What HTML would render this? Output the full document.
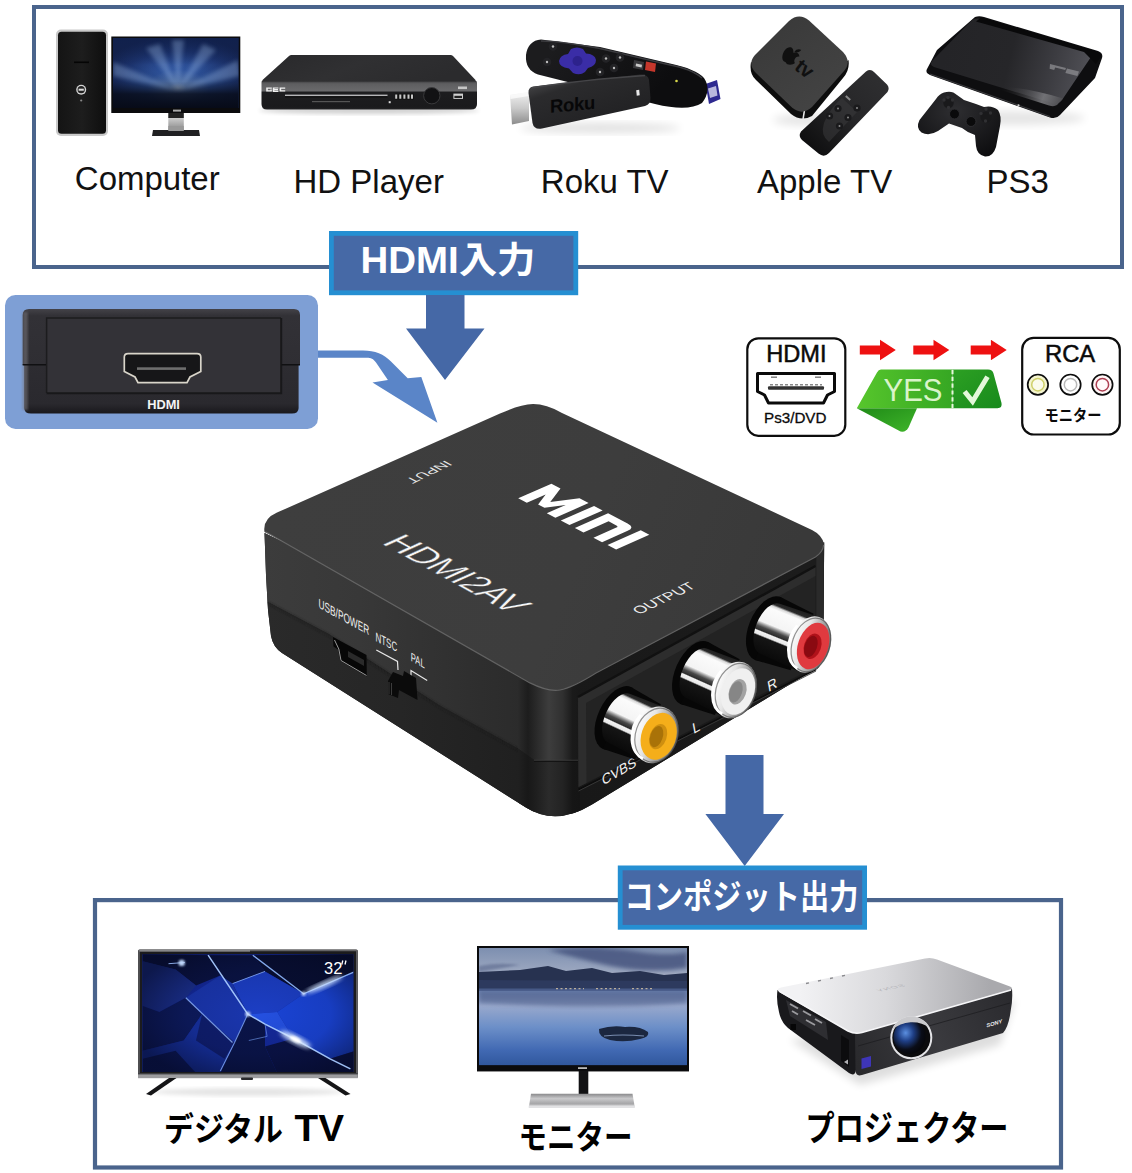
<!DOCTYPE html>
<html><head><meta charset="utf-8"><title>HDMI to AV converter</title>
<style>
html,body{margin:0;padding:0;background:#fff;}
body{width:1132px;height:1173px;overflow:hidden;font-family:"Liberation Sans",sans-serif;}
svg{display:block;}
text{font-family:"Liberation Sans",sans-serif;}
</style></head><body>
<svg width="1132" height="1173" viewBox="0 0 1132 1173">
<defs>
<linearGradient id="gTop" x1="0" y1="0" x2="1" y2="1">
 <stop offset="0" stop-color="#3a3a3a"/><stop offset="1" stop-color="#323232"/>
</linearGradient>
<radialGradient id="gScreen1" cx="0.55" cy="0.62" r="0.6">
 <stop offset="0" stop-color="#9fc0ea"/><stop offset="0.18" stop-color="#4f7fc4"/><stop offset="0.5" stop-color="#1c3a78"/><stop offset="1" stop-color="#0a1738"/>
</radialGradient>
<linearGradient id="gSilverV" x1="0" y1="0" x2="0" y2="1">
 <stop offset="0" stop-color="#e8e8e8"/><stop offset="1" stop-color="#8a8a8a"/>
</linearGradient>
<linearGradient id="gGreen" x1="0" y1="0" x2="1" y2="0">
 <stop offset="0" stop-color="#57c62c"/><stop offset="1" stop-color="#36a723"/>
</linearGradient>
<linearGradient id="gGreen2" x1="0" y1="0" x2="1" y2="1">
 <stop offset="0" stop-color="#2da023"/><stop offset="1" stop-color="#178a1c"/>
</linearGradient>
<linearGradient id="gFold" x1="0" y1="0" x2="1" y2="1">
 <stop offset="0" stop-color="#1f8a17"/><stop offset="1" stop-color="#3fb52a"/>
</linearGradient>
</defs>
<rect x="0" y="0" width="1132" height="1173" fill="#ffffff"/>
<rect x="34" y="7" width="1088" height="260" fill="#fff" stroke="#4a648c" stroke-width="4"/>
<text x="74.8" y="190.3" font-size="33" fill="#111">Computer</text>
<text x="293.5" y="193.1" font-size="33" fill="#111">HD Player</text>
<text x="540.8" y="193.1" font-size="33" fill="#111">Roku TV</text>
<text x="757" y="193.1" font-size="33" fill="#111">Apple TV</text>
<text x="986.5" y="193.1" font-size="33" fill="#111">PS3</text>
<rect x="331.4" y="233.4" width="244.4" height="59.4" fill="#4669a6" stroke="#258fd2" stroke-width="4.8"/>
<polygon points="426,295 464.5,295 464.5,328.5 484.5,328.5 445,380 406,328.5 426,328.5" fill="#4568a6"/>
<rect x="5" y="295" width="313" height="133.9" rx="10.5" fill="#7e9fd5"/>
<path d="M318,350.4 L363,350.4 C375,350.4 384,354 391,361.5 L407.7,378.2 L421.3,377 L437.4,422.8 L372.5,382.6 L387.9,380.1 L376,362.5 C373,358.5 371,357.6 366,357.7 L318,357.8 Z" fill="#5a85c8"/>
<polygon points="725.5,755 763.5,755 763.5,814 784,814 744.7,866 705.4,814 725.5,814" fill="#4568a6"/>
<rect x="95" y="900.1" width="966" height="267.4" fill="#fff" stroke="#4a648c" stroke-width="4.2"/>
<rect x="620.2" y="867.9" width="244.4" height="59.4" fill="#4669a6" stroke="#258fd2" stroke-width="4.8"/>
<text x="360.5" y="272.5" font-size="36" font-weight="bold" fill="#fff" textLength="175" lengthAdjust="spacingAndGlyphs" style="font-family:'Liberation Sans','Noto Sans CJK JP',sans-serif;">HDMI入力</text>
<text x="624.5" y="908.7" font-size="34" font-weight="bold" fill="#fff" textLength="234" lengthAdjust="spacingAndGlyphs" style="font-family:'Liberation Sans','Noto Sans CJK JP',sans-serif;">コンポジット出力</text>
<text x="164" y="1140.6" font-size="33" font-weight="bold" fill="#000" textLength="119" lengthAdjust="spacingAndGlyphs" style="font-family:'Liberation Sans','Noto Sans CJK JP',sans-serif;">デジタル</text>
<text x="294.5" y="1141.4" font-size="36.5" font-weight="bold" fill="#000" textLength="49.5" lengthAdjust="spacingAndGlyphs">TV</text>
<text x="518.5" y="1149.4" font-size="33" font-weight="bold" fill="#000" textLength="114" lengthAdjust="spacingAndGlyphs" style="font-family:'Liberation Sans','Noto Sans CJK JP',sans-serif;">モニター</text>
<text x="805.5" y="1140.6" font-size="35" font-weight="bold" fill="#000" textLength="203" lengthAdjust="spacingAndGlyphs" style="font-family:'Liberation Sans','Noto Sans CJK JP',sans-serif;">プロジェクター</text>
<defs>
<linearGradient id="cvTop" gradientUnits="userSpaceOnUse" x1="300" y1="450" x2="760" y2="640">
 <stop offset="0" stop-color="#3e3e3e"/><stop offset="0.6" stop-color="#3d3d3d"/><stop offset="1" stop-color="#393939"/>
</linearGradient>
<linearGradient id="cvLeftU" gradientUnits="userSpaceOnUse" x1="265" y1="0" x2="535" y2="0">
 <stop offset="0" stop-color="#3c3c3c"/><stop offset="0.35" stop-color="#383838"/><stop offset="0.8" stop-color="#2e2e2e"/><stop offset="1" stop-color="#2a2a2a"/>
</linearGradient>
<linearGradient id="cvLeftL" gradientUnits="userSpaceOnUse" x1="265" y1="0" x2="535" y2="0">
 <stop offset="0" stop-color="#2a2a2a"/><stop offset="0.5" stop-color="#262626"/><stop offset="1" stop-color="#1f1f1f"/>
</linearGradient>
<linearGradient id="cvCorner" gradientUnits="userSpaceOnUse" x1="518" y1="0" x2="580" y2="0">
 <stop offset="0" stop-color="#2b2b2b"/><stop offset="0.16" stop-color="#1d1d1d"/><stop offset="0.30" stop-color="#2a2a2a"/><stop offset="0.5" stop-color="#3d3d3d"/><stop offset="0.72" stop-color="#303030"/><stop offset="0.88" stop-color="#1a1a1a"/><stop offset="1" stop-color="#181818"/>
</linearGradient>
<linearGradient id="cvCornerL" gradientUnits="userSpaceOnUse" x1="518" y1="0" x2="580" y2="0">
 <stop offset="0" stop-color="#202020"/><stop offset="0.16" stop-color="#181818"/><stop offset="0.30" stop-color="#1f1f1f"/><stop offset="0.5" stop-color="#2b2b2b"/><stop offset="0.72" stop-color="#232323"/><stop offset="0.88" stop-color="#161616"/><stop offset="1" stop-color="#151515"/>
</linearGradient>
<linearGradient id="cvRight" gradientUnits="userSpaceOnUse" x1="560" y1="760" x2="830" y2="620">
 <stop offset="0" stop-color="#181818"/><stop offset="1" stop-color="#1c1c1c"/>
</linearGradient>
<linearGradient id="metal" gradientUnits="userSpaceOnUse" x1="0" y1="-24" x2="0" y2="24">
 <stop offset="0" stop-color="#6a6a6a"/><stop offset="0.12" stop-color="#f4f4f4"/><stop offset="0.3" stop-color="#ffffff"/>
 <stop offset="0.45" stop-color="#9a9a9a"/><stop offset="0.62" stop-color="#2e2e2e"/><stop offset="0.8" stop-color="#1a1a1a"/><stop offset="0.93" stop-color="#8a8a8a"/><stop offset="1" stop-color="#444"/>
</linearGradient>
<clipPath id="cvSil"><path d="M264.5,533 L266,575 L268,610 L271,636 Q273,647 282,653 L526,807.6 Q556,826.5 592,804.6 L812,670.8 Q822.5,664.5 823.3,654 L824.2,542 L569,680 Z"/></clipPath>
</defs>
<path d="M264.5,533 L266,575 L268,610 L271,636 Q273,647 282,653 L526,807.6 Q556,826.5 592,804.6 L812,670.8 Q822.5,664.5 823.3,654 L824.2,542 L569,680 Z" fill="#1b1b1b"/>
<g clip-path="url(#cvSil)"><path d="M260,528 L535,686 L535,760 L525,752.4 L440,705.7 L329,634.2 L260,598 Z" fill="url(#cvLeftU)"/><path d="M260,598 L329,634.2 L440,705.7 L525,752.4 L535,760 L535,830 L260,660 Z" fill="url(#cvLeftL)"/><path d="M262,599.5 L329,635.2 L440,706.7 L525,753.4 L536,761" stroke="#1e1e1e" stroke-width="2.2" fill="none" opacity="0.55" filter="url(#blur1)"/><path d="M570,680 L830,540 L830,700 L570,830 Z" fill="url(#cvRight)"/><path d="M518,680 H580 V760.5 H535 L518,748.5 Z" fill="url(#cvCorner)"/><path d="M518,748.5 L535,760.5 H580 V830 H518 Z" fill="url(#cvCornerL)"/><path d="M534,760.3 H578" stroke="#454545" stroke-width="1" opacity="0.8"/><path d="M534,761.4 H578" stroke="#101010" stroke-width="1.2" opacity="0.8"/></g>
<path d="M816.3,557.5 Q823,552.5 823.8,546 L823.3,655 Q823,664 816.3,670 Z" fill="#2a2a2a"/>
<path d="M578,697 L815.5,566 L815.5,667 L578.5,787 Z" fill="#232323"/>
<path d="M578,697 L815.5,566 L815.5,576 L586,703 L586.5,783 L578.5,787 Z" fill="#2d2d2d"/>
<path d="M578,697 L815.5,566" stroke="#111" stroke-width="2.4" fill="none"/>
<path d="M578.5,789.5 L816,669.5" stroke="#0c0c0c" stroke-width="1.6" fill="none"/>
<path d="M578.5,791 L816,671" stroke="#3a3a3a" stroke-width="0.9" fill="none"/>
<path d="M264.5,532 Q262.5,519 277,512.6 L500,413.6 Q520,404.4 533,404.1 Q546,404 562,413 L812,530 Q822,535 824,544 Q823.6,551.5 815.5,556.8 L596,672.5 Q572,687.5 560,689.5 Q548,691.5 530,682.6 L270,534.6 Z" fill="url(#cvTop)"/>
<path d="M265.5,531.8 L530,682.9 Q548,692 560,690 Q572,688 596,673 L815.5,557 Q823,552 823.6,545" stroke="#686868" stroke-width="1.2" fill="none" opacity="0.9"/>
<g transform="matrix(0.9066 0.4738 0.898 -0.395 518.2 498.3)" fill="#fff"><path d="M0,0V37H10L20.5,15L31,37H41V0H31.5V21L24,5H17L9.5,21V0Z"/><rect x="47" y="0" width="9.5" height="37"/><path d="M62.5,0V37H84Q92.5,37 92.5,28.5V0H83V25.5Q83,28 80.5,28H72V0Z"/><rect x="98.5" y="0" width="9.5" height="37"/></g>
<text transform="matrix(0.835 0.456 -0.915 0.408 380.5 543.2)" font-size="36.5" fill="#f6f6f6" stroke="#3a3a3a" stroke-width="0.45" letter-spacing="-0.6">HDMI2AV</text>
<text transform="matrix(-1.04 0.498 -0.86 -0.463 445.6 460.3)" font-size="13" fill="#e6e6e6">INPUT</text>
<text transform="matrix(0.96 -0.46 0.80 0.56 639 614.8)" font-size="14.6" fill="#ededed">OUTPUT</text>
<text transform="matrix(0.627 0.343 0 1 318.6 607.6)" font-size="13.2" fill="#f0f0f0">USB/POWER</text>
<text transform="matrix(0.627 0.32 0 1 375.4 640.9)" font-size="12.8" fill="#f0f0f0">NTSC</text>
<text transform="matrix(0.627 0.36 0 1 410.8 660.7)" font-size="12.2" fill="#f0f0f0">PAL</text>
<path d="M376.3,650 L397.5,661.4 L398,670" stroke="#e8e8e8" stroke-width="1.2" fill="none"/>
<path d="M411,676.5 L411,670.6 L427.2,680.5" stroke="#e8e8e8" stroke-width="1.2" fill="none"/>
<path d="M333,637 L366.5,655 L366.8,676.5 L340.5,661 L338,649.5 L333.5,646.5 Z" fill="#070707"/>
<path d="M334.5,640 L338.8,649 L341,660.5 L366.5,675.5" stroke="#9a9a9a" stroke-width="1" fill="none"/>
<path d="M348,651 L364,660 L364,666 L348,657 Z" fill="#2a2a2a"/>
<path d="M393,672 L403,676 L404,671 L416,678 L417.5,700 L399,690 L398,698 L388,694 L388,681 Z" fill="#0b0b0b"/>
<path d="M389,682 L389,694 M391.5,683 L391.5,695" stroke="#3c3c3c" stroke-width="1" fill="none"/>
<text transform="matrix(0.87 -0.50 0.18 0.98 603 785.4)" font-size="14.2" fill="#f2f2f2">CVBS</text>
<text transform="matrix(0.87 -0.50 0.18 0.98 693.5 734)" font-size="14.5" fill="#f2f2f2">L</text>
<text transform="matrix(0.87 -0.50 0.18 0.98 768.5 692)" font-size="14.5" fill="#f2f2f2">R</text>
<defs>
<linearGradient id="rimG" x1="0" y1="0" x2="1" y2="0"><stop offset="0" stop-color="#ffffff"/><stop offset="0.35" stop-color="#e6e6e6"/><stop offset="0.7" stop-color="#9a9a9a"/><stop offset="1" stop-color="#6a6a6a"/></linearGradient>
<linearGradient id="metal2" gradientUnits="userSpaceOnUse" x1="0" y1="-29" x2="0" y2="29">
 <stop offset="0" stop-color="#1c1c1c"/><stop offset="0.09" stop-color="#2a2a2a"/><stop offset="0.125" stop-color="#d8d8d8"/><stop offset="0.17" stop-color="#fbfbfb"/>
 <stop offset="0.44" stop-color="#f4f4f4"/><stop offset="0.49" stop-color="#8c8c8c"/><stop offset="0.53" stop-color="#484848"/><stop offset="0.59" stop-color="#2c2c2c"/>
 <stop offset="0.61" stop-color="#f2f2f2"/><stop offset="0.665" stop-color="#e8e8e8"/><stop offset="0.69" stop-color="#151515"/><stop offset="1" stop-color="#090909"/>
</linearGradient>
</defs>
<g transform="translate(809.8,644.5)"><g transform="rotate(22)"><ellipse cx="-45" cy="1" rx="19" ry="34" fill="#060606"/><path d="M-45,-33 L-8,-30 L-8,31 L-45,35 Z" fill="#070707"/><path d="M-43,-26.5 L0,-29 L0,29 L-43,27 A14,26.7 0 0 1 -43,-26.5 Z" fill="url(#metal2)"/></g><g transform="rotate(19)"><ellipse cx="0" cy="0" rx="20.3" ry="29" fill="url(#rimG)"/><ellipse cx="1.2" cy="0" rx="18.7" ry="27.6" fill="none" stroke="#3c3c3c" stroke-width="1.2" opacity="0.55"/><path d="M-18.1,-14 A18.3,27 0 0 0 -4,26.6" stroke="#ffffff" stroke-width="2.6" fill="none"/><ellipse cx="3.6" cy="0.3" rx="15.1" ry="24" fill="#e03a3f"/><ellipse cx="3.2" cy="0.8" rx="8.5" ry="13.1" fill="#b0121a"/><ellipse cx="1.6" cy="1.4" rx="6.2" ry="11" fill="#8a0a11"/></g></g>
<g transform="translate(734.8,690)"><g transform="rotate(24)"><ellipse cx="-44" cy="1" rx="19" ry="34" fill="#060606"/><path d="M-44,-33 L-8,-30 L-8,31 L-44,35 Z" fill="#070707"/><path d="M-42,-26.5 L0,-29 L0,29 L-42,27 A14,26.7 0 0 1 -42,-26.5 Z" fill="url(#metal2)"/></g><g transform="rotate(19)"><ellipse cx="0" cy="0" rx="21.3" ry="29" fill="url(#rimG)"/><ellipse cx="1.2" cy="0" rx="19.7" ry="27.6" fill="none" stroke="#3c3c3c" stroke-width="1.2" opacity="0.55"/><path d="M-19.1,-14 A19.3,27 0 0 0 -4,26.6" stroke="#ffffff" stroke-width="2.6" fill="none"/><ellipse cx="3.6" cy="0.3" rx="16.1" ry="24" fill="#f0f0f0"/><ellipse cx="3.2" cy="0.8" rx="8.5" ry="13.1" fill="#a2a2a2"/><ellipse cx="1.6" cy="1.4" rx="6.2" ry="11" fill="#868686"/></g></g>
<g transform="translate(655.4,734.8)"><g transform="rotate(25)"><ellipse cx="-42" cy="1" rx="19" ry="34" fill="#060606"/><path d="M-42,-33 L-8,-30 L-8,31 L-42,35 Z" fill="#070707"/><path d="M-40,-26.5 L0,-29 L0,29 L-40,27 A14,26.7 0 0 1 -40,-26.5 Z" fill="url(#metal2)"/></g><g transform="rotate(19)"><ellipse cx="0" cy="0" rx="22.5" ry="29" fill="url(#rimG)"/><ellipse cx="1.2" cy="0" rx="20.9" ry="27.6" fill="none" stroke="#3c3c3c" stroke-width="1.2" opacity="0.55"/><path d="M-20.3,-14 A20.5,27 0 0 0 -4,26.6" stroke="#ffffff" stroke-width="2.6" fill="none"/><ellipse cx="3.6" cy="0.3" rx="17.3" ry="24" fill="#f5ae1a"/><ellipse cx="3.2" cy="0.8" rx="8.5" ry="13.1" fill="#cf8f10"/><ellipse cx="1.6" cy="1.4" rx="6.2" ry="11" fill="#a97208"/></g></g>
<defs>
<linearGradient id="hdTop" x1="0" y1="0" x2="0" y2="1"><stop offset="0" stop-color="#434248"/><stop offset="0.12" stop-color="#323136"/><stop offset="1" stop-color="#2f2e33"/></linearGradient>
<linearGradient id="hdBot" x1="0" y1="0" x2="0" y2="1"><stop offset="0" stop-color="#2d2c31"/><stop offset="0.8" stop-color="#2a292e"/><stop offset="1" stop-color="#19181c"/></linearGradient>
</defs>
<path d="M29,309 H294 Q300,309 300,315 V365 H22.7 V315 Q22.7,309 29,309 Z" fill="url(#hdTop)"/>
<path d="M24.2,364.5 H298.6 V408 Q298.6,413.6 292,413.6 H31 Q24.2,413.6 24.2,408 Z" fill="url(#hdBot)"/>
<rect x="22.7" y="312" width="5" height="98" fill="#77767b" opacity="0.55" filter="url(#blur1)"/>
<rect x="46.6" y="318" width="234.5" height="75" fill="#333237"/>
<path d="M46.6,393 V318 H281" stroke="#1c1c1e" stroke-width="1.5" fill="none"/>
<path d="M46.6,393.3 H281.2 V318" stroke="#18181a" stroke-width="2" fill="none"/>
<path d="M22.7,364.8 H46 M281.5,364.8 H300" stroke="#101012" stroke-width="1.6"/>
<path d="M128,353.6 H197 Q200.8,353.6 200.8,357 V371.5 L190,377 L187,382.6 H138 L135,377 L124.3,371.5 V357 Q124.3,353.6 128,353.6 Z" fill="#161618" stroke="#d9d5ca" stroke-width="1.7"/>
<rect x="137" y="367.3" width="49" height="2.6" fill="#6e6e6e"/>
<text x="147.2" y="408.6" font-size="12.8" font-weight="bold" fill="#f4f4f4">HDMI</text>
<defs>
<linearGradient id="twr" x1="0" y1="0" x2="1" y2="0"><stop offset="0" stop-color="#141414"/><stop offset="0.5" stop-color="#1d1d1d"/><stop offset="1" stop-color="#0e0e0e"/></linearGradient>
<radialGradient id="scr1" gradientUnits="userSpaceOnUse" cx="178" cy="88" r="86" gradientTransform="translate(178 88) scale(1 0.6) translate(-178 -88)">
 <stop offset="0" stop-color="#b4cff0"/><stop offset="0.1" stop-color="#7099d8"/><stop offset="0.36" stop-color="#3158a4"/><stop offset="0.72" stop-color="#1b316a"/><stop offset="1" stop-color="#121f47"/>
</radialGradient>
<linearGradient id="scr1b" x1="0" y1="0" x2="0" y2="1"><stop offset="0" stop-color="#10214e" stop-opacity="0.7"/><stop offset="0.38" stop-color="#14285a" stop-opacity="0"/><stop offset="0.62" stop-color="#0a1126" stop-opacity="0.3"/><stop offset="0.8" stop-color="#080d1c" stop-opacity="0.9"/><stop offset="1" stop-color="#070b18" stop-opacity="1"/></linearGradient>
<filter id="blur2" x="-20%" y="-20%" width="140%" height="140%"><feGaussianBlur stdDeviation="2"/></filter>
<filter id="blur1" x="-20%" y="-20%" width="140%" height="140%"><feGaussianBlur stdDeviation="1"/></filter>
<filter id="blur4" x="-30%" y="-30%" width="160%" height="160%"><feGaussianBlur stdDeviation="4"/></filter>
<clipPath id="clipScr1"><rect x="113" y="38" width="125.6" height="70"/></clipPath>
</defs>
<rect x="56" y="29.5" width="52" height="106.5" rx="5" fill="#c9c9c9"/>
<rect x="58" y="31.8" width="48" height="102" rx="3.5" fill="url(#twr)"/>
<rect x="74" y="61.5" width="15" height="1.6" fill="#050505"/>
<circle cx="81.2" cy="89.7" r="5" fill="#d4d4d4"/><circle cx="81.2" cy="89.7" r="3.6" fill="#222"/><rect x="78.6" y="88.7" width="5.2" height="2" fill="#ddd"/>
<circle cx="81.2" cy="100.5" r="1.1" fill="#888"/>
<rect x="111.3" y="36.5" width="129" height="76.5" fill="#0b0b0d"/>
<rect x="113" y="38" width="125.6" height="70" fill="url(#scr1)"/>
<rect x="113" y="38" width="125.6" height="70" fill="url(#scr1b)"/>
<g clip-path="url(#clipScr1)"><path d="M178,90 L113,62 L113,76 Z M178,90 L238,60 L240,76 Z M178,90 L146,48 L160,44 Z M178,90 L203,44 L216,50 Z M178,90 L172,40 L184,40 Z" fill="#a8c8f2" opacity="0.32" filter="url(#blur2)"/></g>
<rect x="173" y="109.6" width="8" height="2" fill="#aaa"/>
<rect x="168.3" y="113" width="15.5" height="17" fill="url(#gSilverV)"/>
<rect x="168.3" y="113" width="15.5" height="5" fill="#222"/>
<path d="M153,130 H199 L200,136 H152 Z" fill="#202022"/>
<rect x="168.3" y="126" width="15.5" height="5" fill="#999"/>
<defs>
<linearGradient id="plTop" x1="0" y1="0" x2="1" y2="0.3"><stop offset="0" stop-color="#29292b"/><stop offset="0.5" stop-color="#303032"/><stop offset="1" stop-color="#2b2b2d"/></linearGradient>
<linearGradient id="plFront" x1="0" y1="0" x2="0" y2="1"><stop offset="0" stop-color="#2a2a2c"/><stop offset="0.06" stop-color="#555557"/><stop offset="0.1" stop-color="#5e5e60"/><stop offset="0.34" stop-color="#69696b"/><stop offset="0.40" stop-color="#1d1d1f"/><stop offset="0.92" stop-color="#1a1a1c"/><stop offset="1" stop-color="#262628"/></linearGradient>
</defs>
<ellipse cx="369" cy="110.5" rx="110" ry="3.5" fill="#000" opacity="0.18" filter="url(#blur2)"/>
<path d="M291.5,55 H450.5 Q452,55 453,56 L475.5,80 L476,82 H262 L262.5,80 L289,56 Q290,55 291.5,55 Z" fill="url(#plTop)"/>
<path d="M262,81 H476 Q477,81 477,83 V104 Q477,109.5 471,109.5 H267 Q261.5,109.5 261.5,104 V83 Q261.5,81 262,81 Z" fill="url(#plFront)"/>
<rect x="285" y="94.6" width="102.5" height="1.6" fill="#b5b5b7"/>
<rect x="285" y="96.2" width="102.5" height="1.3" fill="#0c0c0c"/>
<path d="M266.2,87.4 h5.6 v1.3 h-4 v1.6 h2.6 v-0.8 h1.4 v2.1 h-5.6 z M272.8,87.4 h5.6 v1.2 h-4 v0.5 h3.6 v1.1 h-3.6 v0.5 h4 v1.2 h-5.6 z M279.6,87.4 h5.6 v1.3 h-4 v1.6 h4 v1.3 h-5.6 z" fill="#f0f0f0"/>
<rect x="395" y="93.6" width="19" height="6" fill="#111"/>
<path d="M396.2,94.5 v4.2 M400.3,94.5 v4.2 M404.4,94.5 v4.2 M408.5,94.5 v4.2 M412,94.5 v4.2" stroke="#c8c8c8" stroke-width="2"/>
<circle cx="431.8" cy="95.7" r="8.2" fill="#121214" stroke="#3a3a3c" stroke-width="1"/>
<rect x="453.4" y="93.6" width="9.6" height="5.3" fill="#d0d0d0"/><rect x="454.4" y="95.8" width="7.6" height="2.2" fill="#222"/>
<rect x="458" y="86.5" width="9" height="2.6" fill="#c6c6c6"/>
<rect x="312" y="101" width="38" height="1.2" fill="#555"/>
<rect x="388.7" y="101.2" width="2" height="2" fill="#ddd"/>
<defs>
<linearGradient id="rkRem" gradientUnits="userSpaceOnUse" x1="560" y1="40" x2="640" y2="110"><stop offset="0" stop-color="#1c1c1e"/><stop offset="1" stop-color="#0d0d0f"/></linearGradient>
<linearGradient id="rkStick" gradientUnits="userSpaceOnUse" x1="560" y1="80" x2="575" y2="125"><stop offset="0" stop-color="#3c3c3e"/><stop offset="0.2" stop-color="#2b2b2d"/><stop offset="1" stop-color="#232325"/></linearGradient>
<linearGradient id="rkPlug" x1="0" y1="0" x2="0" y2="1"><stop offset="0" stop-color="#f2f2f2"/><stop offset="0.5" stop-color="#c9c9c9"/><stop offset="1" stop-color="#8c8c8c"/></linearGradient>
</defs>
<ellipse cx="600" cy="128" rx="80" ry="5" fill="#000" opacity="0.12" filter="url(#blur4)"/>
<path d="M705.5,84 L717,80 L720.5,99 L709,104 Z" fill="#2e2a90"/>
<path d="M708,88.5 L716,86 L717.5,95.5 L710,98 Z" fill="#dcdcf0" opacity="0.8"/>
<path d="M541,39.5 Q528,40.5 526,55 Q525,70 538,74.5 L655,104 Q688,112 702,103 Q712,90 704,78 Q696,69 670,63.5 L600,47 Z" fill="url(#rkRem)"/>
<path d="M541,41 Q560,41 600,48.5 L668,64.5 Q692,69 702,78" stroke="#3b3b3f" stroke-width="1.5" fill="none"/>
<path d="M571,49 Q577,46 583,49 L586,53.5 Q595,54 596,60 Q596,66 588,68 L585,72 Q580,76 573,73 L569,68.5 Q559,67 559,61 Q560,55 568,54 Z" fill="#3a2da6"/>
<circle cx="577.5" cy="61" r="5" fill="#2d228c"/>
<circle cx="553" cy="46.5" r="4.3" fill="#232326"/><circle cx="553" cy="46.5" r="1.2" fill="#bdbdbd"/>
<circle cx="547" cy="62" r="4.3" fill="#232326"/><circle cx="547" cy="62" r="1.2" fill="#bdbdbd"/>
<circle cx="606" cy="58.5" r="4.3" fill="#232326"/><circle cx="606" cy="58.5" r="1.2" fill="#bdbdbd"/>
<circle cx="620" cy="57.5" r="4.3" fill="#232326"/><circle cx="620" cy="57.5" r="1.2" fill="#bdbdbd"/>
<circle cx="614" cy="68" r="4.3" fill="#232326"/><circle cx="614" cy="68" r="1.2" fill="#bdbdbd"/>
<circle cx="600" cy="72" r="4.3" fill="#232326"/><circle cx="600" cy="72" r="1.2" fill="#bdbdbd"/>
<path d="M634,60 L644,62 L643,70 L633,68 Z" fill="#38383b"/><path d="M636,63.5 L642,64.8 L641.6,67.5 L635.7,66.2 Z" fill="#c9c9c9"/>
<path d="M646,61.5 L656,63.5 L655,72 L645,70 Z" fill="#c5372c"/>
<circle cx="676.5" cy="81" r="1.3" fill="#d8d84a"/>
<path d="M510,95 L529,92 L529,121 L512,124.5 Z" fill="url(#rkPlug)"/>
<path d="M510,95 L529,92 L529,96 L510.5,99 Z" fill="#fff" opacity="0.7"/>
<path d="M533,86.5 L640,74.5 Q648,74 649,80 L650.5,98 Q651,104 645,106 L542,128.5 Q534,130 532.5,123 L528.5,93 Q528,87.5 533,86.5 Z" fill="url(#rkStick)"/>
<path d="M531,88 Q580,80 645,75.5" stroke="#454548" stroke-width="1.6" fill="none"/>
<text transform="matrix(1 -0.09 0 1 550 112.8)" font-size="18.5" font-weight="bold" fill="#070708" letter-spacing="-0.3">Roku</text>
<rect x="636.5" y="90" width="3" height="5.5" fill="#e8e8e8" transform="rotate(-6 638 93)"/>
<defs>
<linearGradient id="atvTop" gradientUnits="userSpaceOnUse" x1="770" y1="30" x2="830" y2="110"><stop offset="0" stop-color="#3a3a3a"/><stop offset="1" stop-color="#444444"/></linearGradient>
<linearGradient id="atvRem" gradientUnits="userSpaceOnUse" x1="810" y1="150" x2="885" y2="75"><stop offset="0" stop-color="#0e0e0f"/><stop offset="0.5" stop-color="#262628"/><stop offset="1" stop-color="#2f2f31"/></linearGradient>
</defs>
<ellipse cx="815" cy="120" rx="42" ry="6" fill="#000" opacity="0.10" filter="url(#blur4)"/>
<path d="M751,62 Q749,74 756,80 L791,114 Q801,122 812,116 L843,78 Q850,70 848.5,60 L800,100 Z" fill="#0d0d0d"/>
<path d="M803,119.5 L804.5,110" stroke="#e8e8e8" stroke-width="1.6"/>
<path d="M789,21 Q799,12.5 809,20.5 L843,52 Q852,62 844,71 L812,107 Q802,116 792,107.5 L756,73 Q747,64 755,55 Z" fill="url(#atvTop)"/>
<g transform="translate(795.5,50) rotate(38) scale(1.18)"><path d="M0,3 C-2.5,-1.5 -7,0.5 -7,5.5 C-7,10.5 -3.5,15 -0.5,13.2 C2.5,15 6,11.5 6.4,9 C3.4,7.8 3.4,3.6 6,2.3 C4,0 1.5,0.7 0,3 Z M0.2,1.8 C0,-0.8 1.8,-2.8 3.8,-3 C4,-0.6 2.2,1.6 0.2,1.8 Z" fill="#101010"/><text x="8.5" y="13.5" font-size="17" fill="#101010" font-weight="bold" letter-spacing="-0.5">tv</text></g>
<path d="M866,71.5 Q870.5,68.5 874,72 L887,84.5 Q890,88 887.5,92 L829,153 Q824,158 818.5,153.5 L802,140 Q798,136 801,131.5 Z" fill="url(#atvRem)"/>
<path d="M842,98 L857,112 L829,142 Q820,135 824,123 Q830,108 842,98 Z" fill="#3a3a3c" opacity="0.55"/>
<circle cx="838" cy="108.5" r="3.6" fill="#1a1a1c"/><circle cx="838" cy="108.5" r="1" fill="#8a8a8a"/>
<circle cx="829.5" cy="116" r="3.6" fill="#1a1a1c"/><circle cx="829.5" cy="116" r="1" fill="#8a8a8a"/>
<circle cx="848" cy="117.5" r="3.6" fill="#1a1a1c"/><circle cx="848" cy="117.5" r="1" fill="#8a8a8a"/>
<circle cx="839.5" cy="126" r="3.6" fill="#1a1a1c"/><circle cx="839.5" cy="126" r="1" fill="#8a8a8a"/>
<circle cx="857" cy="108" r="3.6" fill="#1a1a1c"/><circle cx="857" cy="108" r="1" fill="#8a8a8a"/>
<rect x="845" y="97" width="6" height="2" fill="#888" transform="rotate(43 848 98)"/>
<defs>
<linearGradient id="psTop" gradientUnits="userSpaceOnUse" x1="945" y1="50" x2="1085" y2="85"><stop offset="0" stop-color="#242427"/><stop offset="0.45" stop-color="#262629"/><stop offset="0.75" stop-color="#3c3c41"/><stop offset="1" stop-color="#505056"/></linearGradient>
<linearGradient id="psGl" gradientUnits="userSpaceOnUse" x1="1000" y1="85" x2="1060" y2="108"><stop offset="0" stop-color="#1a1a1c" stop-opacity="0"/><stop offset="0.7" stop-color="#77777b" stop-opacity="0.9"/><stop offset="1" stop-color="#4a4a4e"/></linearGradient>
<radialGradient id="psPad" cx="0.45" cy="0.3" r="0.8"><stop offset="0" stop-color="#2e2e31"/><stop offset="1" stop-color="#0c0c0e"/></radialGradient>
</defs>
<ellipse cx="1010" cy="118" rx="75" ry="7" fill="#000" opacity="0.10" filter="url(#blur4)"/>
<path d="M975,17 Q979,15.5 984,17 L1098,51 Q1103.5,53 1102,58 L1095,78 L1060,115 Q1056,119.5 1050,117.5 L930,75 Q925,73 927,69 L937,50 Z" fill="#0e0e10"/>
<path d="M972,20 Q977,17.5 983,19.5 L1089,51 Q1094,53 1091,57 L1062,100 Q1058,105 1052,103 L934,67 Q929,65 932,61 Z" fill="url(#psTop)"/>
<path d="M981,17.5 L1097,51.5 Q1102,53.5 1100,58 L1096,64 L1084,52 L976,21.5 Z" fill="#09090a"/>
<path d="M995,86 Q1030,88 1063,98.5 L1057,105 Q1054,107 1049,105.5 L985,85 Z" fill="url(#psGl)"/>
<path d="M1050,64 l16,4 l-0.8,2 l-10,-2.4 l-1,2.4 l-4.6,-1.2 z M1067,68.5 l12,3 l-1.6,4.4 l-12,-3 z" fill="#8d8d92" opacity="0.75"/>
<path d="M930,74 L1050,116.5" stroke="#3a3a3d" stroke-width="1.1" fill="none"/>
<circle cx="1018.5" cy="105.3" r="1.1" fill="#d0d0d0"/>
<path d="M944,92.5 Q952,90 957,95 L964,100 Q975,103.5 984,107 Q992,105 998,110 Q1002,116 1000,126 L996,147 Q993,157 985,156.5 Q977,155 976,146 L975,135 Q968,133 962,128 L949,123.5 L938,131 Q929,136.5 921.5,132.5 Q915.5,128 919.5,120 L936,99 Q939,94 944,92.5 Z" fill="url(#psPad)"/>
<circle cx="948.5" cy="103" r="5.2" fill="#19191b"/><circle cx="986" cy="117" r="5.6" fill="#19191b"/>
<circle cx="954.5" cy="114" r="5" fill="#0a0a0b" stroke="#2c2c2f" stroke-width="1"/><circle cx="971" cy="121.5" r="5" fill="#0a0a0b" stroke="#2c2c2f" stroke-width="1"/>
<circle cx="981" cy="113.5" r="1.7" fill="#303033"/>
<circle cx="990.5" cy="113" r="1.7" fill="#303033"/>
<circle cx="986" cy="109" r="1.7" fill="#303033"/>
<circle cx="985.5" cy="121" r="1.7" fill="#303033"/>
<circle cx="944" cy="100" r="1.7" fill="#303033"/>
<circle cx="952.5" cy="100" r="1.7" fill="#303033"/>
<circle cx="948" cy="97.5" r="1.7" fill="#303033"/>
<circle cx="948.5" cy="107.5" r="1.7" fill="#303033"/>
<rect x="747.3" y="338.3" width="98" height="97.5" rx="11" fill="#fff" stroke="#0d0d0d" stroke-width="2.2"/>
<text x="766.2" y="362.4" font-size="23.6" fill="#0a0a0a" stroke="#0a0a0a" stroke-width="0.5">HDMI</text>
<path d="M757.5,373.5 H834.5 V391.5 L827.5,395 L823.5,403 H768.5 L764.5,395 L757.5,391.5 Z" fill="#fff" stroke="#0a0a0a" stroke-width="3" stroke-linejoin="round"/>
<rect x="768" y="386.3" width="56" height="3.4" rx="1" fill="#333"/>
<path d="M770,384.8 h52" stroke="#8a8a8a" stroke-width="1.4" stroke-dasharray="3 2"/>
<rect x="771" y="376.5" width="6" height="1.4" fill="#777"/><rect x="815" y="376.5" width="6" height="1.4" fill="#777"/>
<text x="764" y="423" font-size="15.2" fill="#0a0a0a" stroke="#0a0a0a" stroke-width="0.3">Ps3/DVD</text>
<path d="M859.8,345.6 h20.2 v-5.8 l15.8,10.2 l-15.8,10.3 v-5.8 h-20.2 z" fill="#ee1111"/>
<path d="M913.3,345.6 h20.2 v-5.8 l15.8,10.2 l-15.8,10.3 v-5.8 h-20.2 z" fill="#ee1111"/>
<path d="M970.7,345.6 h20.2 v-5.8 l15.8,10.2 l-15.8,10.3 v-5.8 h-20.2 z" fill="#ee1111"/>
<path d="M856.8,408.3 H917 L908.5,427.5 Q906,432.5 900.5,431.5 Z" fill="url(#gFold)"/>
<path d="M881,369.5 H952.5 V408.2 H856.8 L877,372.5 Q878.5,369.5 881,369.5 Z" fill="url(#gGreen)"/>
<path d="M952.5,369.5 H988 Q992.5,369.5 993.5,373.5 L1001.5,403 Q1002.5,408.2 997.5,408.2 H952.5 Z" fill="url(#gGreen2)"/>
<path d="M952.5,370 V408" stroke="#e6f7dc" stroke-width="2" stroke-dasharray="4.2 2.6"/>
<text x="883.5" y="400.6" font-size="30.5" fill="#d9f4c9" textLength="59" lengthAdjust="spacingAndGlyphs">YES</text>
<path d="M964.6,391.5 L972.6,401.5 L987.5,376.8" stroke="#e4f8da" stroke-width="5" fill="none"/>
<rect x="1022.2" y="337.9" width="97.6" height="96.6" rx="11.5" fill="#fff" stroke="#0d0d0d" stroke-width="2.2"/>
<text x="1045" y="362" font-size="23.8" fill="#0a0a0a" stroke="#0a0a0a" stroke-width="0.5">RCA</text>
<circle cx="1037.9" cy="384.7" r="10.2" fill="#f4f4cf" stroke="#0d0d0d" stroke-width="1.7"/><circle cx="1037.9" cy="384.7" r="6.2" fill="#fff" fill-opacity="0.6" stroke="#cfd06a" stroke-width="1.5"/>
<circle cx="1070.5" cy="384.7" r="10.2" fill="#ffffff" stroke="#0d0d0d" stroke-width="1.7"/><circle cx="1070.5" cy="384.7" r="6.2" fill="#fff" fill-opacity="0.6" stroke="#b9b9b9" stroke-width="1.5"/>
<circle cx="1102.4" cy="384.7" r="10.2" fill="#fff6f6" stroke="#0d0d0d" stroke-width="1.7"/><circle cx="1102.4" cy="384.7" r="6.2" fill="#fff" fill-opacity="0.6" stroke="#ad3f52" stroke-width="1.5"/>
<text x="1044.5" y="421" font-size="15.5" font-weight="bold" fill="#0a0a0a" textLength="57" lengthAdjust="spacingAndGlyphs" style="font-family:'Liberation Sans','Noto Sans CJK JP',sans-serif;">モニター</text>
<defs>
<linearGradient id="tvBg" gradientUnits="userSpaceOnUse" x1="141" y1="953" x2="355" y2="1073"><stop offset="0" stop-color="#0c1a6c"/><stop offset="0.35" stop-color="#1330a0"/><stop offset="0.6" stop-color="#1a3fc0"/><stop offset="1" stop-color="#0a1450"/></linearGradient>
<radialGradient id="tvVig" cx="0.55" cy="0.5" r="0.62"><stop offset="0" stop-color="#050a28" stop-opacity="0"/><stop offset="0.55" stop-color="#050a28" stop-opacity="0.12"/><stop offset="1" stop-color="#040820" stop-opacity="0.6"/></radialGradient>
<clipPath id="clipTv"><rect x="142.6" y="954.3" width="210.6" height="117.6"/></clipPath>
</defs>
<ellipse cx="248" cy="1092" rx="95" ry="4" fill="#000" opacity="0.10" filter="url(#blur2)"/>
<rect x="138" y="949.5" width="219.8" height="128.6" rx="1.5" fill="#1b1b1d"/>
<path d="M139,1075 V950.6 H356.8 V1075" stroke="#77777b" stroke-width="1.4" fill="none" opacity="0.8"/>
<path d="M139.5,951 H250" stroke="#c9c9cd" stroke-width="1.2" fill="none" opacity="0.7"/>
<rect x="138" y="1073.6" width="219.8" height="4.6" fill="#9c9c9e"/>
<rect x="138" y="1073.2" width="219.8" height="1.2" fill="#3a3a3c"/>
<rect x="142.6" y="954.3" width="210.6" height="117.6" fill="url(#tvBg)"/>
<g clip-path="url(#clipTv)">
<rect x="142" y="954" width="212" height="119" fill="#14299a"/>
<polygon points="142.7,954.1 208.1,955.2 220.3,975.5 196.0,985.6 175.6,969.4 142.7,961.3" fill="#0a1240" opacity="1.0" />
<polygon points="142.7,961.3 175.6,969.4 196.0,985.6 185.8,997.8 159.4,1012.1 142.7,1006.0" fill="#1b308e" opacity="1.0" />
<polygon points="142.7,1006.0 159.4,1012.1 185.8,997.8 202.1,1014.1 183.8,1040.5 142.7,1050.7" fill="#0d1a5c" opacity="1.0" />
<polygon points="208.1,955.2 252.8,955.2 265.0,971.4 232.5,983.6 247.8,1014.1 220.3,975.5" fill="#0a1342" opacity="1.0" />
<polygon points="252.8,955.2 355.5,954.1 355.5,971.4 303.6,993.8 265.0,971.4" fill="#080e30" opacity="1.0" />
<polygon points="232.5,983.6 265.0,971.4 303.6,993.8 277.2,1012.1 247.8,1014.1" fill="#1c3ec4" opacity="1.0" />
<polygon points="185.8,997.8 220.3,975.5 232.5,983.6 247.8,1014.1 234.6,1042.5 202.1,1014.1" fill="#1a36ae" opacity="1.0" />
<polygon points="303.6,993.8 355.5,971.4 355.5,1050.7 330.1,1058.8 293.5,1038.5 277.2,1012.1" fill="#1a44d6" opacity="1.0" />
<polygon points="247.8,1014.1 277.2,1012.1 293.5,1038.5 265.0,1024.2" fill="#2450e0" opacity="1.0" />
<polygon points="293.5,1038.5 330.1,1058.8 355.5,1050.7 355.5,1073.0 277.2,1073.0 265.0,1046.6" fill="#0a1244" opacity="1.0" />
<polygon points="234.6,1042.5 247.8,1014.1 265.0,1024.2 265.0,1046.6 277.2,1073.0 220.3,1073.0" fill="#0a1448" opacity="1.0" />
<polygon points="142.7,1050.7 183.8,1040.5 202.1,1014.1 234.6,1042.5 220.3,1073.0 142.7,1073.0" fill="#16309e" opacity="1.0" />
<polygon points="142.7,1058.8 175.6,1050.7 196.0,1073.0 142.7,1073.0" fill="#0c1858" opacity="1.0" />
<polygon points="202.1,1014.1 234.6,1042.5 224.4,1058.8 196.0,1040.5" fill="#0e1c66" opacity="0.9" />
<rect x="142" y="954" width="212" height="119" fill="url(#tvVig)"/>
<polyline points="208.1,955.2 247.8,1014.1 265.0,1024.2 293.5,1038.5 330.1,1058.8 350.4,1068.9" stroke="#a8caff" stroke-width="1.5" fill="none" opacity="0.95" />
<polyline points="252.8,955.2 303.6,993.8 355.5,971.4" stroke="#8fb8ff" stroke-width="1.3" fill="none" opacity="0.9" />
<polyline points="232.5,983.6 265.0,971.4" stroke="#88adf5" stroke-width="1.0" fill="none" opacity="0.8" />
<polyline points="185.8,997.8 232.5,1042.5" stroke="#86a9f0" stroke-width="1.2" fill="none" opacity="0.85" />
<polyline points="247.8,1014.1 234.6,1042.5 220.3,1071.0" stroke="#7fa6f2" stroke-width="1.1" fill="none" opacity="0.8" />
<polyline points="265.0,1024.2 267.1,1036.4 248.8,1040.5" stroke="#6f97ea" stroke-width="0.9" fill="none" opacity="0.7" />
<polyline points="168.5,963.7 184.8,962.5" stroke="#9cc0ff" stroke-width="1.0" fill="none" opacity="0.85" />
<ellipse cx="295.5" cy="1039.5" rx="17" ry="4" transform="rotate(27 295.5 1039.5)" fill="#d8e8ff" opacity="0.9" filter="url(#blur2)"/>
<ellipse cx="295.5" cy="1039.5" rx="6" ry="2.4" transform="rotate(27 295.5 1039.5)" fill="#ffffff" filter="url(#blur1)"/>
<ellipse cx="324.0" cy="984.6" rx="20" ry="3.2" transform="rotate(-24 324.0 984.6)" fill="#cfe2ff" opacity="0.85" filter="url(#blur2)"/>
<circle cx="247.8" cy="1014.1" r="2.6" fill="#cfe0ff" opacity="0.9" filter="url(#blur1)"/>
<circle cx="181.7" cy="962.9" r="3.2" fill="#c4dcff" opacity="0.95" filter="url(#blur1)"/>
<circle cx="303.6" cy="993.8" r="2.2" fill="#cfe0ff" opacity="0.9" filter="url(#blur1)"/>
</g>
<text x="324" y="973.6" font-size="16.5" fill="#ffffff">32</text><path d="M342.8,960.5 l-1,4 M346,960.5 l-1,4" stroke="#fff" stroke-width="1.3"/>
<path d="M169,1078 L176.5,1078 L151,1095.5 L146,1094 Z" fill="#151517"/>
<path d="M318,1078 L325.5,1078 L350.5,1094 L345.5,1095.5 Z" fill="#151517"/>
<rect x="241" y="1077.5" width="12" height="2.6" rx="1" fill="#2a2a2c"/>
<defs>
<linearGradient id="m2sky" x1="0" y1="0" x2="0" y2="1"><stop offset="0" stop-color="#7d8fb0"/><stop offset="0.55" stop-color="#9aa6bf"/><stop offset="1" stop-color="#b9b6bd"/></linearGradient>
<linearGradient id="m2water" x1="0" y1="0" x2="0" y2="1"><stop offset="0" stop-color="#6a80ae"/><stop offset="0.22" stop-color="#98a8cc"/><stop offset="0.5" stop-color="#6c8fc8"/><stop offset="0.8" stop-color="#4169b3"/><stop offset="1" stop-color="#30579d"/></linearGradient>
<linearGradient id="m2base" x1="0" y1="0" x2="0" y2="1"><stop offset="0" stop-color="#8a8a8c"/><stop offset="0.35" stop-color="#c9c9cb"/><stop offset="0.7" stop-color="#a7a7a9"/><stop offset="1" stop-color="#d5d5d7"/></linearGradient>
<clipPath id="clipM2"><rect x="479" y="948" width="208" height="117.5"/></clipPath>
</defs>
<rect x="477" y="946" width="212" height="125.2" fill="#0a0a0c"/>
<rect x="479" y="948" width="208" height="41" fill="url(#m2sky)"/>
<rect x="479" y="989" width="208" height="76.5" fill="url(#m2water)"/>
<g clip-path="url(#clipM2)"><path d="M548,950 Q590,944 640,952 Q670,956 687,952 L687,968 Q650,974 610,966 Q575,958 548,950 Z" fill="#46557f" opacity="0.85" filter="url(#blur2)"/><path d="M479,966 Q500,962 520,965 L479,972 Z" fill="#5a678c" opacity="0.6" filter="url(#blur1)"/><path d="M479,972 L520,970 L548,966 L566,971 L592,968 L612,973 L640,971 L664,975 L687,973 L687,990 L479,990 Z" fill="#273250"/><path d="M479,980 L687,981 L687,990 L479,990 Z" fill="#2d3a5e"/><rect x="479" y="988.5" width="208" height="2.5" fill="#4b5f8d" opacity="0.9"/><path d="M556,988.6 h28 M596,988.6 h24 M632,988.6 h22" stroke="#e6cfa8" stroke-width="1.3" stroke-dasharray="2 2.5" opacity="0.8"/><path d="M556,991 h100" stroke="#c9b6a0" stroke-width="2.5" opacity="0.25" filter="url(#blur1)"/><path d="M479,991 L687,991 L687,1003 Q600,1010 479,1003 Z" fill="#3a4b78" opacity="0.45" filter="url(#blur2)"/><path d="M599,1029 Q612,1025 625,1027 Q640,1026 648,1032 Q650,1037 640,1039 Q625,1043 610,1040 Q598,1037 599,1029 Z" fill="#1b2740"/><path d="M604,1036 Q622,1034 644,1036" stroke="#9fb6dd" stroke-width="1.2" fill="none" opacity="0.7"/></g>
<rect x="477" y="1065.3" width="212" height="6" fill="#0b0b0d"/>
<rect x="578" y="1067.2" width="9" height="1.8" fill="#b9b9b9"/>
<rect x="578.7" y="1071" width="9.6" height="24" fill="#121214"/>
<path d="M531,1093.8 H632.5 L634.8,1107.5 H528.8 Z" fill="url(#m2base)"/>
<rect x="528.8" y="1105.5" width="106" height="2.4" fill="#e2e2e4"/>
<defs>
<linearGradient id="pjTop" gradientUnits="userSpaceOnUse" x1="800" y1="985" x2="990" y2="990"><stop offset="0" stop-color="#f2f2f4"/><stop offset="0.45" stop-color="#d9d9dc"/><stop offset="1" stop-color="#a9a9ad"/></linearGradient>
<linearGradient id="pjFront" gradientUnits="userSpaceOnUse" x1="860" y1="1070" x2="1010" y2="1000"><stop offset="0" stop-color="#2a2a2d"/><stop offset="0.5" stop-color="#3a3a3e"/><stop offset="1" stop-color="#2b2b2f"/></linearGradient>
<radialGradient id="pjLens" cx="0.38" cy="0.38" r="0.7"><stop offset="0" stop-color="#5b8fe0"/><stop offset="0.35" stop-color="#1f3f86"/><stop offset="0.7" stop-color="#0a0d18"/><stop offset="1" stop-color="#050507"/></radialGradient>
</defs>
<path d="M790,1040 L860,1085 L1000,1045 L1015,1000 Z" fill="#000" opacity="0.13" filter="url(#blur4)"/>
<path d="M777.5,990 Q776,1000 779,1012 Q781,1022 788,1028 L849,1073 Q855,1077 856,1070 L856,1033 Z" fill="#19191c"/>
<path d="M786,1000 L826,1022 L828,1040 L790,1016 Z" fill="#2e2e32"/>
<path d="M790,1004 l8,4.5 M803,1011 l8,4.5 M792,1011 l6,3.5 M806,1020 l9,5 M815,1019 l7,4" stroke="#9a9a9e" stroke-width="1.8"/>
<rect x="790.5" y="1024" width="5.5" height="6" fill="#060607"/>
<path d="M841,1035 L849,1040 L849,1067 L841,1061 Z" fill="#0c0c0e"/><path d="M844,1062 l4,-2.5 l0,5 z" fill="#b0b0b4"/>
<path d="M855,1033 L1012,989 Q1013,1000 1010.5,1012 Q1008.5,1027 1003,1033 L862,1075 Q855.5,1077 855.5,1070 Z" fill="url(#pjFront)"/>
<path d="M858,1046 L1010,1003" stroke="#1b1b1e" stroke-width="1" opacity="0.7"/>
<path d="M781,987.5 L925,958.5 Q931,957 937,959.5 L1010,986.5 Q1014,988.5 1010,990.5 L862,1032.5 Q855,1034.5 848,1031 L780,992.5 Q775,989 781,987.5 Z" fill="url(#pjTop)"/>
<path d="M779,991 L848,1031 Q855,1034.5 862,1032.5 L1011,990" stroke="#f6f6f8" stroke-width="1.6" fill="none"/>
<text transform="matrix(-0.95 0.2 0.6 0.3 906 986)" font-size="9" fill="#b5b5ba" letter-spacing="1">SONY</text>
<path d="M806,983.5 l3,-0.6 M818,981 l3,-0.6 M830,978.5 l3,-0.6 M842,976 l3,-0.6" stroke="#8a8a8e" stroke-width="1.4"/>
<ellipse cx="911.3" cy="1037.8" rx="21" ry="21.5" fill="#e4e4e7"/>
<ellipse cx="911.3" cy="1037.8" rx="19" ry="19.5" fill="#0b0b0d"/>
<ellipse cx="909.5" cy="1037" rx="16" ry="17" fill="url(#pjLens)"/>
<path d="M892,1030 A21,21.5 0 0 1 930,1028 A30,30 0 0 0 892,1030 Z" fill="#c9c9cc"/>
<text transform="matrix(1 -0.28 0 1 986.5 1027.5)" font-size="5.6" font-weight="bold" fill="#e6e6e8">SONY</text>
<path d="M861.5,1058.5 L871,1056 L871,1066.5 L861.5,1069 Z" fill="#3e35b8"/>
</svg>
</body></html>
